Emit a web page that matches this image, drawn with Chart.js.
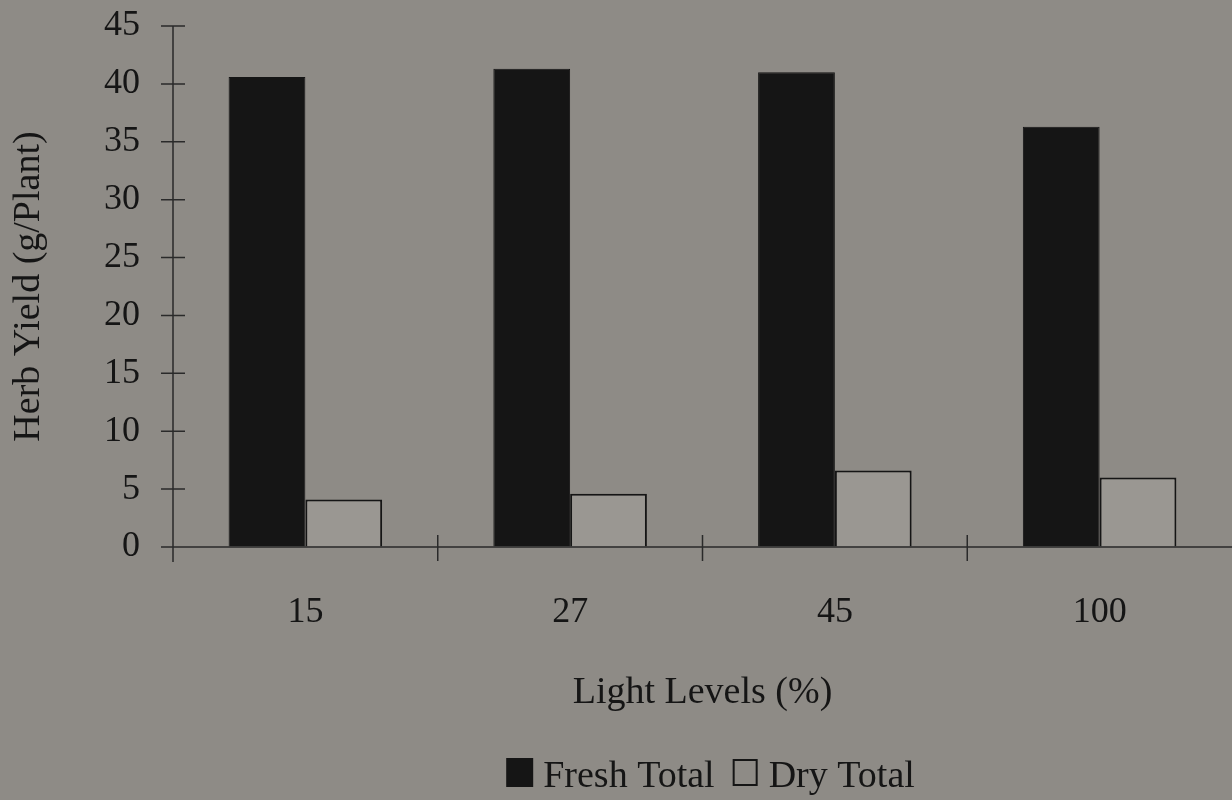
<!DOCTYPE html>
<html>
<head>
<meta charset="utf-8">
<title>Herb Yield by Light Level</title>
<script src="https://cdn.jsdelivr.net/npm/chart.js@4"></script>
<style>
  html, body { margin: 0; padding: 0; background: #8e8b86; }
  #wrap { width: 1232px; height: 800px; }
</style>
</head>
<body>
<div id="wrap"><canvas id="chart" width="1232" height="800"></canvas></div>
<script>
// Light levels (% of full sun) and herb yield per plant, in grams
const categories = ['15', '27', '45', '100'];
const freshTotal = [40.6, 41.3, 41.0, 36.3];
const dryTotal = [4.1, 4.6, 6.6, 6.0];
const yMin = 0;
const yMax = 45;
const yStep = 5;

const INK = '#151515';
const BG = '#8e8b86';
const FONT = 'Liberation Serif, "Times New Roman", Times, serif';

// paper-coloured background
const backgroundPlugin = {
  id: 'paperBackground',
  beforeDraw(chart) {
    const ctx = chart.ctx;
    ctx.save();
    ctx.fillStyle = BG;
    ctx.fillRect(0, 0, chart.width, chart.height);
    ctx.restore();
  }
};

// axis lines with tick marks that cross the axis
const crossAxesPlugin = {
  id: 'crossAxes',
  afterDatasetsDraw(chart) {
    const ctx = chart.ctx;
    const x = chart.scales.x;
    const y = chart.scales.y;
    const left = chart.chartArea.left;
    const bottom = y.getPixelForValue(yMin);
    ctx.save();
    ctx.strokeStyle = '#2a2a2a';
    ctx.lineWidth = 1.5;
    ctx.beginPath();
    // vertical axis
    ctx.moveTo(left, y.getPixelForValue(yMax));
    ctx.lineTo(left, bottom + 15);
    // horizontal axis
    ctx.moveTo(left - 12, bottom);
    ctx.lineTo(chart.chartArea.right, bottom);
    // value ticks
    y.ticks.forEach(t => {
      const py = y.getPixelForValue(t.value);
      ctx.moveTo(left - 12, py);
      ctx.lineTo(left + 12, py);
    });
    // category boundary ticks
    for (let i = 1; i < categories.length; i++) {
      const px = (x.getPixelForValue(i - 1) + x.getPixelForValue(i)) / 2;
      ctx.moveTo(px, bottom - 12);
      ctx.lineTo(px, bottom + 14);
    }
    ctx.stroke();
    ctx.restore();
  }
};

// legend row: filled / open squares followed by the series names
const legendRowPlugin = {
  id: 'legendRow',
  afterDraw(chart) {
    const ctx = chart.ctx;
    const sets = chart.data.datasets;
    const size = 27;
    const gapBox = 10;
    const gapItem = 17;
    const baseline = 787;
    ctx.save();
    ctx.font = '38px ' + FONT;
    ctx.textBaseline = 'alphabetic';
    let total = 0;
    sets.forEach((ds, i) => {
      total += size + gapBox + ctx.measureText(ds.label).width;
      if (i < sets.length - 1) total += gapItem;
    });
    const cx = (chart.chartArea.left + chart.chartArea.right) / 2 + 8;
    let px = cx - total / 2;
    sets.forEach((ds, i) => {
      const top = baseline - 29;
      if (i === 0) {
        ctx.fillStyle = ds.backgroundColor;
        ctx.fillRect(px, top, size, 29);
      } else {
        ctx.strokeStyle = INK;
        ctx.lineWidth = 2;
        ctx.strokeRect(px + 2, top + 2, size - 4, 25);
      }
      px += size + gapBox;
      ctx.fillStyle = INK;
      ctx.fillText(ds.label, px, baseline);
      px += ctx.measureText(ds.label).width + gapItem;
    });
    ctx.restore();
  }
};

// invisible tick marks only reserve the gap between axis and labels
const spacerGrid = (len) => ({
  display: true,
  drawOnChartArea: false,
  drawTicks: true,
  tickLength: len,
  tickColor: 'rgba(0,0,0,0)',
  color: 'rgba(0,0,0,0)'
});

new Chart(document.getElementById('chart'), {
  type: 'bar',
  data: {
    labels: categories,
    datasets: [
      {
        label: 'Fresh Total',
        data: freshTotal,
        backgroundColor: INK,
        borderColor: INK,
        borderWidth: 1,
        categoryPercentage: 0.58,
        barPercentage: 1.0
      },
      {
        label: 'Dry Total',
        data: dryTotal,
        backgroundColor: '#9a9792',
        borderColor: INK,
        borderWidth: 2,
        categoryPercentage: 0.58,
        barPercentage: 1.0
      }
    ]
  },
  options: {
    responsive: false,
    animation: false,
    devicePixelRatio: 1,
    layout: { padding: { top: 26, right: 0, bottom: 0, left: 0 } },
    plugins: {
      legend: { display: false },
      tooltip: { enabled: false },
      title: { display: false }
    },
    scales: {
      x: {
        grid: spacerGrid(44),
        border: { display: false },
        ticks: {
          color: INK,
          padding: 0,
          font: { family: FONT, size: 36 }
        },
        title: {
          display: true,
          text: 'Light Levels (%)',
          color: INK,
          font: { family: FONT, size: 38 },
          padding: { top: 0, bottom: 84 }
        },
        afterFit(scale) { scale.height = 253; }
      },
      y: {
        min: yMin,
        max: yMax,
        grid: spacerGrid(33),
        border: { display: false },
        ticks: {
          stepSize: yStep,
          color: INK,
          padding: 0,
          font: { family: FONT, size: 36 }
        },
        title: {
          display: true,
          text: 'Herb Yield (g/Plant)',
          color: INK,
          font: { family: FONT, size: 38 },
          padding: { top: 6, bottom: 0 }
        },
        afterFit(scale) { scale.width = 173; }
      }
    }
  },
  plugins: [backgroundPlugin, crossAxesPlugin, legendRowPlugin]
});
</script>
</body>
</html>
